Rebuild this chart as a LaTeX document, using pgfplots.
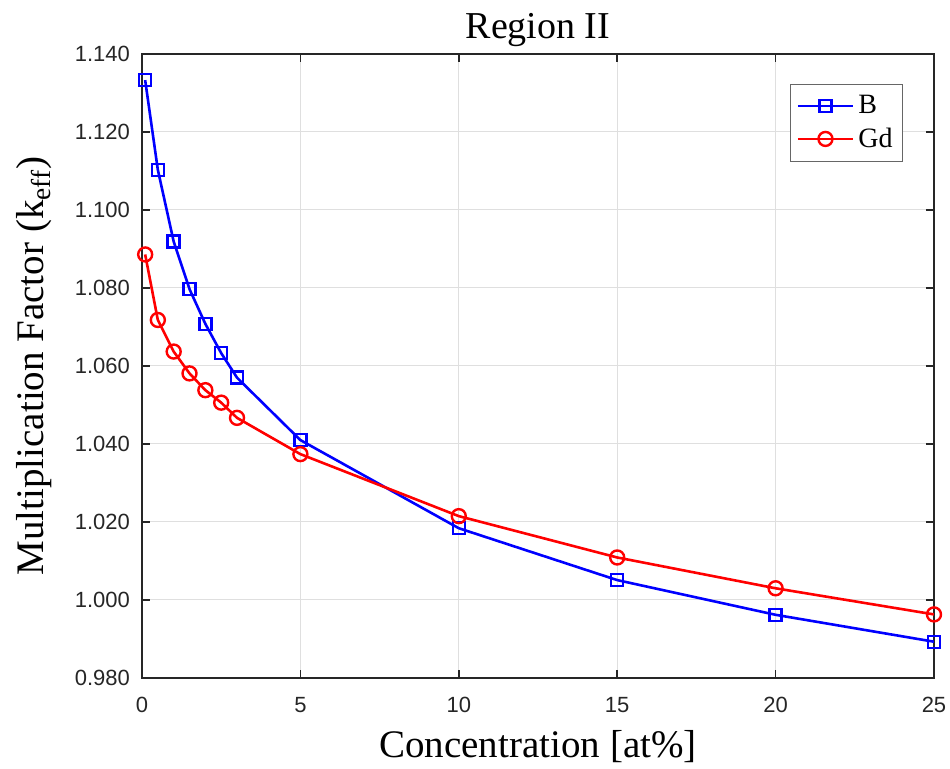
\documentclass[border=0pt]{standalone}
\usepackage{fontspec}
\setmainfont{Liberation Serif}
\newfontfamily\arial{Liberation Sans}
\usepackage{pgfplots}
\pgfplotsset{compat=1.18}
\definecolor{axgray}{RGB}{38,38,38}
\definecolor{gridgray}{RGB}{223,223,223}
\begin{document}
\begin{tikzpicture}
\begin{axis}[
  scale only axis,
  width=396pt, height=312pt,
  xmin=0, xmax=25, ymin=0.98, ymax=1.14,
  xtick={0,5,10,15,20,25},
  ytick={0.98,1.00,1.02,1.04,1.06,1.08,1.10,1.12,1.14},
  /pgf/number format/assume math mode=true,
  tick label style={font=\arial\fontsize{11}{13}\selectfont, text=axgray},
  yticklabel style={xshift=-2.5pt, /pgf/number format/fixed, /pgf/number format/fixed zerofill, /pgf/number format/precision=3},
  xticklabel style={yshift=-6pt},
  tick align=inside,
  major tick length=4pt,
  tick style={axgray, line width=0.8pt},
  axis line style={axgray, line width=1pt},
  grid=major,
  major grid style={gridgray, line width=0.5pt},
  title={Region II},
  title style={font=\fontsize{19}{21}\selectfont, at={(rel axis cs:0.5,1)}, anchor=base, yshift=1.5pt},
  xlabel={Concentration [at\%]},
  ylabel={Multiplication Factor (k\textsubscript{eff})},
  label style={font=\fontsize{19.5}{22}\selectfont},
  xlabel style={at={(rel axis cs:0.5,0)}, anchor=base, yshift=-40pt},
  ylabel style={at={(rel axis cs:0,0.5)}, anchor=base, yshift=49pt, rotate=0},
  legend style={at={(rel axis cs:1,1)}, anchor=north east, xshift=-15.5pt, yshift=-15pt,
    draw=gray!80!black, font=\fontsize{14}{16}\selectfont, row sep=1.5pt,
    inner xsep=3pt, inner ysep=3.5pt},
  legend cell align=left,
  legend image code/.code={
    \draw[mark repeat=2,mark phase=2] plot coordinates {(0cm,0cm) (0.485cm,0cm) (0.97cm,0cm)};
  },
]
\addplot[blue, line width=1.3pt, mark=square, mark size=3pt, mark options={line width=1.2pt}] coordinates {
(0.1,1.1333) (0.5,1.1103) (1.0,1.0919) (1.5,1.0797) (2.0,1.0708) (2.5,1.0633) (3.0,1.0570)
(5,1.0410) (10,1.0184) (15,1.0051) (20,0.9962) (25,0.9893)
};
\addlegendentry{B}
\addplot[red, line width=1.3pt, mark=o, mark size=3.5pt, mark options={line width=1.2pt}] coordinates {
(0.1,1.0886) (0.5,1.0718) (1.0,1.0637) (1.5,1.0581) (2.0,1.0538) (2.5,1.0506) (3.0,1.0467)
(5,1.0374) (10,1.0215) (15,1.0109) (20,1.0030) (25,0.9963)
};
\addlegendentry{Gd}
\end{axis}
\pgfresetboundingbox
\useasboundingbox (-71pt,-45.5pt) rectangle (404pt,339pt);
\end{tikzpicture}
\end{document}
